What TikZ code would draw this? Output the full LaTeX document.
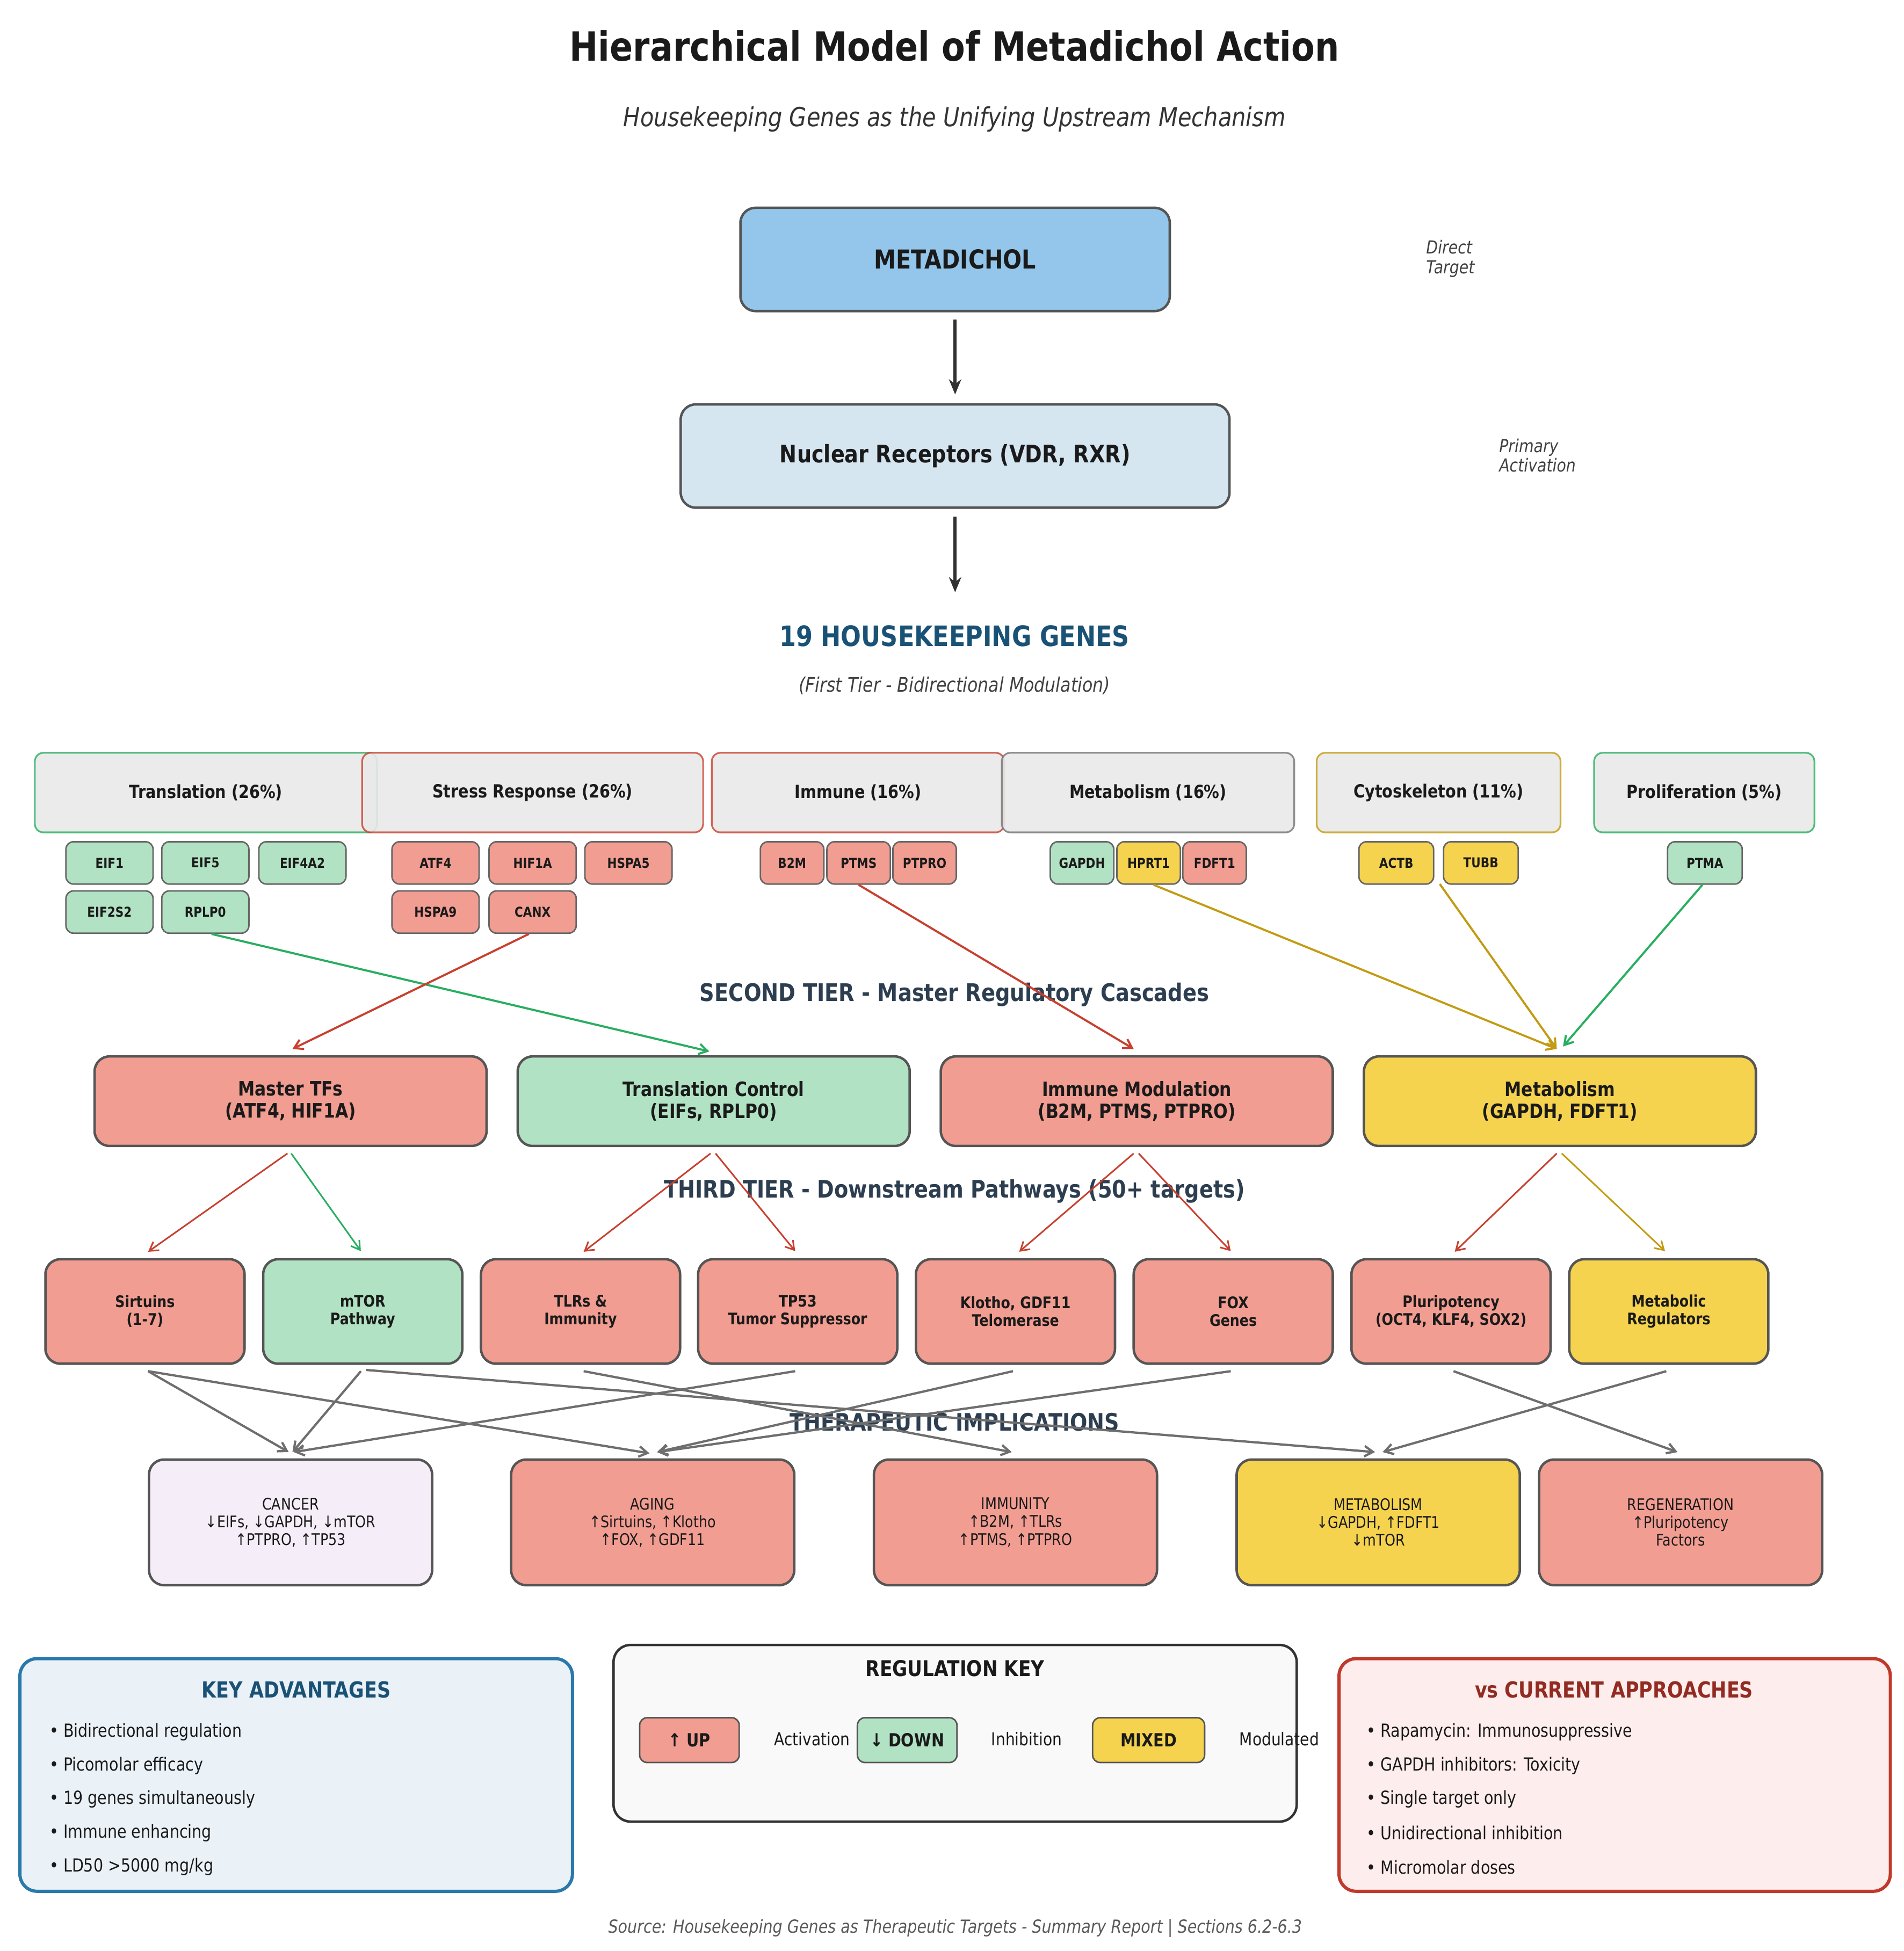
\documentclass[tikz,border=0pt]{standalone}
\usepackage{fontspec}
\setmainfont{DejaVu Sans}[FakeStretch=0.85]
\usetikzlibrary{arrows.meta}
\definecolor{inkc}{HTML}{1A1A1A}
\definecolor{edgec}{HTML}{555555}
\definecolor{upc}{HTML}{F29D92}
\definecolor{downc}{HTML}{B1E2C3}
\definecolor{mixc}{HTML}{F5D34F}
\definecolor{redl}{HTML}{C8402F}
\definecolor{greenl}{HTML}{27AE60}
\definecolor{goldl}{HTML}{C39B12}
\definecolor{grayl}{HTML}{6E6E6E}
\definecolor{navyc}{HTML}{1A5276}
\definecolor{slatec}{HTML}{2C3E50}
\definecolor{metac}{HTML}{93C6EA}
\definecolor{nuclc}{HTML}{D6E6F1}
\definecolor{cancc}{HTML}{F5EEF8}
\definecolor{advl}{HTML}{2979AB}
\definecolor{advc}{HTML}{EAF1F7}
\definecolor{curl}{HTML}{C0392B}
\definecolor{curc}{HTML}{FDEDEC}
\definecolor{curt}{HTML}{922B21}
\newcommand{\pxu}{0.02317cm}
\newcommand{\fsz}[2]{\fontsize{#1}{#2}\selectfont}
\tikzset{
    box/.style n args={3}{draw=edgec,line width=1.3pt,rounded corners=0.28cm,fill=#1,
        minimum width=#2*\pxu,minimum height=#3*\pxu,inner sep=0pt,align=center,text=inkc},
    tiertwo/.style={box={#1}{315}{72},font=\bfseries\fsz{10.5}{11.6}},
    tierthree/.style={box={#1}{160}{84},font=\bfseries\fsz{8.45}{9.4}},
    outcome/.style={box={#1}{227.5}{101},font=\fsz{8.5}{9.4}},
    cat/.style n args={2}{draw=#1,draw opacity=.8,line width=.9pt,rounded corners=0.16cm,
        fill=black!8.5,fill opacity=.9,text opacity=1,minimum width=#2*\pxu,minimum height=64*\pxu,
        inner sep=0pt,font=\bfseries\fsz{9.6}{12},text=inkc},
    gene/.style n args={2}{draw=edgec!90,line width=.8pt,rounded corners=0.14cm,fill=#1,
        minimum width=#2*\pxu,minimum height=34*\pxu,inner sep=0pt,font=\bfseries\fsz{7.2}{9},text=inkc},
    keybtn/.style n args={2}{draw=edgec,line width=.8pt,rounded corners=0.14cm,fill=#1,
        minimum width=#2*\pxu,minimum height=36*\pxu,inner sep=0pt,font=\bfseries\fsz{9.6}{12},text=inkc},
    panel/.style n args={4}{draw=#1,line width=1.7pt,rounded corners=0.32cm,fill=#2,
        minimum width=#3*\pxu,minimum height=#4*\pxu,inner sep=0pt},
    lbl/.style={inner sep=0pt,text=inkc},
    item/.style={lbl,anchor=west,font=\fsz{9.55}{12}},
    flow/.style={-{Stealth[length=8pt,width=6.5pt]},draw=inkc!90,line width=1.6pt},
    link/.style={-{Straight Barb[length=4.5pt,width=5.5pt]},draw=#1,line width=1.1pt},
    down/.style={link=#1,line width=.85pt},
    cross/.style={link=grayl,line width=1.2pt}
}

\begin{document}
\begin{tikzpicture}[x=\pxu,y=-\pxu]
    \useasboundingbox (0,0) rectangle (1530,1568);

    \node[lbl,font=\bfseries\fsz{21.3}{25}] (title) at (767,37) {Hierarchical Model of Metadichol Action};
    \node[lbl,font=\itshape\fsz{13.9}{17},text=black!80] (subtitle) at (767,96) {Housekeeping Genes as the Unifying Upstream Mechanism};

    \node[box={metac}{345}{83},font=\bfseries\fsz{13.8}{17}] (meta) at (767.5,208.5) {METADICHOL};
    \node[box={nuclc}{441}{83},font=\bfseries\fsz{12.8}{16}] (nuclear) at (767.5,366.5) {Nuclear Receptors (VDR, RXR)};
    \node[lbl,align=left,font=\itshape\fsz{9.5}{10.5},text=black!75] (direct) at (1165.5,208) {Direct\\Target};
    \node[lbl,align=left,font=\itshape\fsz{9.5}{10.5},text=black!75] (primary) at (1235.5,366) {Primary\\Activation};

    \node[lbl,font=\bfseries\fsz{14.9}{18},text=navyc] (hk) at (767,511) {19 HOUSEKEEPING GENES};
    \node[lbl,font=\itshape\fsz{10.6}{13},text=black!75] (first) at (767,551) {(First Tier - Bidirectional Modulation)};
    \coordinate (hktop) at (767.5,476);

    \node[cat={greenl}{275}] (ctrans) at (165.5,637) {Translation (26\%)};
    \node[cat={redl}{274}] (cstress) at (428,637) {Stress Response (26\%)};
    \node[cat={redl}{235}] (cimm) at (689.5,637) {Immune (16\%)};
    \node[cat={black!55}{235}] (cmet) at (922.5,637) {Metabolism (16\%)};
    \node[cat={goldl}{196}] (ccyto) at (1156,637) {Cytoskeleton (11\%)};
    \node[cat={greenl}{177}] (cprol) at (1369.5,637) {Proliferation (5\%)};

    \node[gene={downc}{70}] (eif1) at (88,693.5) {EIF1};
    \node[gene={downc}{70}] (eif5) at (165,693.5) {EIF5};
    \node[gene={downc}{70}] (eif4a2) at (243,693.5) {EIF4A2};
    \node[gene={downc}{70}] (eif2s2) at (88,733) {EIF2S2};
    \node[gene={downc}{70}] (rplp0) at (165,733) {RPLP0};

    \node[gene={upc}{70}] (atf4) at (350,693.5) {ATF4};
    \node[gene={upc}{70}] (hif1a) at (428,693.5) {HIF1A};
    \node[gene={upc}{70}] (hspa5) at (505,693.5) {HSPA5};
    \node[gene={upc}{70}] (hspa9) at (350,733) {HSPA9};
    \node[gene={upc}{70}] (canx) at (428,733) {CANX};

    \node[gene={upc}{51}] (b2m) at (636.5,693.5) {B2M};
    \node[gene={upc}{51}] (ptms) at (690,693.5) {PTMS};
    \node[gene={upc}{51}] (ptpro) at (743,693.5) {PTPRO};

    \node[gene={downc}{51}] (gapdh) at (869.5,693.5) {GAPDH};
    \node[gene={mixc}{51}] (hprt1) at (923,693.5) {HPRT1};
    \node[gene={upc}{51}] (fdft1) at (976,693.5) {FDFT1};

    \node[gene={mixc}{60}] (actb) at (1122,693.5) {ACTB};
    \node[gene={mixc}{60}] (tubb) at (1190,693.5) {TUBB};
    \node[gene={downc}{60}] (ptma) at (1370,693.5) {PTMA};
    \coordinate (cytofoot) at (1157,710.5);

    \node[lbl,font=\bfseries\fsz{12.85}{16},text=slatec] (second) at (767,799.5) {SECOND TIER - Master Regulatory Cascades};
    \node[tiertwo=upc] (master) at (233.5,885) {Master TFs\\(ATF4, HIF1A)};
    \node[tiertwo=downc] (control) at (573.5,885) {Translation Control\\(EIFs, RPLP0)};
    \node[tiertwo=upc] (modul) at (913.5,885) {Immune Modulation\\(B2M, PTMS, PTPRO)};
    \node[tiertwo=mixc] (metab) at (1253.5,885) {Metabolism\\(GAPDH, FDFT1)};

    \node[lbl,font=\bfseries\fsz{12.8}{16},text=slatec] (third) at (767,957.5) {THIRD TIER - Downstream Pathways (50+ targets)};
    \node[tierthree=upc] (sirt) at (116.5,1054) {Sirtuins\\(1-7)};
    \node[tierthree=downc] (mtor) at (291.5,1054) {mTOR\\Pathway};
    \node[tierthree=upc] (tlrs) at (466.5,1054) {TLRs \&\\Immunity};
    \node[tierthree=upc] (tp53) at (641,1054) {TP53\\Tumor Suppressor};
    \node[tierthree=upc] (klotho) at (816,1054) {Klotho, GDF11\\Telomerase};
    \node[tierthree=upc] (fox) at (991,1054) {FOX\\Genes};
    \node[tierthree=upc] (pluri) at (1166,1054) {Pluripotency\\(OCT4, KLF4, SOX2)};
    \node[tierthree=mixc] (regul) at (1341,1054) {Metabolic\\Regulators};

    \node[lbl,font=\bfseries\fsz{12.75}{16},text=slatec] (impl) at (767,1143) {THERAPEUTIC IMPLICATIONS};
    \node[outcome=cancc] (cancer) at (233.5,1223.5) {CANCER\\↓EIFs, ↓GAPDH, ↓mTOR\\↑PTPRO, ↑TP53};
    \node[outcome=upc] (aging) at (524.5,1223.5) {AGING\\↑Sirtuins, ↑Klotho\\↑FOX, ↑GDF11};
    \node[outcome=upc] (immun) at (816,1223.5) {IMMUNITY\\↑B2M, ↑TLRs\\↑PTMS, ↑PTPRO};
    \node[outcome=mixc] (metout) at (1107.5,1223.5) {METABOLISM\\↓GAPDH, ↑FDFT1\\↓mTOR};
    \node[outcome=upc] (regen) at (1350.5,1223.5) {REGENERATION\\↑Pluripotency\\Factors};

    \node[panel={advl}{advc}{444}{187}] (adv) at (238,1426.5) {};
    \node[lbl,font=\bfseries\fsz{11.7}{14},text=navyc] (advt) at (238,1358) {KEY ADVANTAGES};
    \node[item] (adv1) at (39.5,1392) {• Bidirectional regulation};
    \node[item] (adv2) at (39.5,1419) {• Picomolar efficacy};
    \node[item] (adv3) at (39.5,1446) {• 19 genes simultaneously};
    \node[item] (adv4) at (39.5,1473) {• Immune enhancing};
    \node[item] (adv5) at (39.5,1500.5) {• LD50 >5000 mg/kg};

    \node[panel={black!80}{black!2.5}{549}{142},line width=1.3pt] (key) at (767.5,1393) {};
    \node[lbl,font=\bfseries\fsz{11.5}{14}] (keyt) at (767.5,1341) {REGULATION KEY};
    \node[keybtn={upc}{80}] (kup) at (554,1398.5) {↑ UP};
    \node[lbl,font=\fsz{9.4}{12}] (kupt) at (652.5,1397.5) {Activation};
    \node[keybtn={downc}{80}] (kdown) at (729,1398.5) {↓ DOWN};
    \node[lbl,font=\fsz{9.4}{12}] (kdownt) at (825,1397.5) {Inhibition};
    \node[keybtn={mixc}{90}] (kmix) at (923,1398.5) {MIXED};
    \node[lbl,font=\fsz{9.4}{12}] (kmixt) at (1028,1397.5) {Modulated};

    \node[panel={curl}{curc}{443}{187}] (curr) at (1297.5,1426.5) {};
    \node[lbl,font=\bfseries\fsz{11.7}{14},text=curt] (currt) at (1297,1358) {vs CURRENT APPROACHES};
    \node[item] (cur1) at (1098,1392) {• Rapamycin: Immunosuppressive};
    \node[item] (cur2) at (1098,1419) {• GAPDH inhibitors: Toxicity};
    \node[item] (cur3) at (1098,1446) {• Single target only};
    \node[item] (cur4) at (1098,1473) {• Unidirectional inhibition};
    \node[item] (cur5) at (1098,1500.5) {• Micromolar doses};

    \node[lbl,font=\itshape\fsz{9.57}{12},text=black!65] (source) at (767.5,1549.5) {Source: Housekeeping Genes as Therapeutic Targets - Summary Report | Sections 6.2-6.3};

    \draw[flow,shorten <=6*\pxu,shorten >=7*\pxu] (meta) -- (nuclear);
    \draw[flow,shorten <=6*\pxu] (nuclear) -- (hktop);

    \draw[link=greenl] ([xshift=5*\pxu]rplp0.south) -- ([xshift=-3.5*\pxu,yshift=3*\pxu]control.north);
    \draw[link=redl] ([xshift=-3*\pxu]canx.south) -- ([xshift=1.5*\pxu,yshift=5*\pxu]master.north);
    \draw[link=redl] (ptms.south) -- ([xshift=-2.5*\pxu,yshift=5*\pxu]modul.north);
    \draw[link=goldl] ([xshift=4*\pxu]hprt1.south) -- ([xshift=-2.5*\pxu,yshift=5*\pxu]metab.north);
    \draw[link=goldl] (cytofoot) -- ([xshift=-2.5*\pxu,yshift=5*\pxu]metab.north);
    \draw[link=greenl] ([xshift=-2*\pxu]ptma.south) -- ([xshift=2.5*\pxu,yshift=7*\pxu]metab.north);

    \draw[down=redl] ([xshift=-2.5*\pxu,yshift=-5*\pxu]master.south) -- ([xshift=2.5*\pxu,yshift=5*\pxu]sirt.north);
    \draw[down=greenl] ([xshift=.5*\pxu,yshift=-5*\pxu]master.south) -- ([xshift=-1.5*\pxu,yshift=5.5*\pxu]mtor.north);
    \draw[down=redl] ([xshift=-2.5*\pxu,yshift=-5*\pxu]control.south) -- ([xshift=2.5*\pxu,yshift=5*\pxu]tlrs.north);
    \draw[down=redl] ([xshift=1.5*\pxu,yshift=-5*\pxu]control.south) -- ([xshift=-2*\pxu,yshift=5.5*\pxu]tp53.north);
    \draw[down=redl] ([xshift=-2.5*\pxu,yshift=-5*\pxu]modul.south) -- ([xshift=3*\pxu,yshift=5*\pxu]klotho.north);
    \draw[down=redl] ([xshift=1.5*\pxu,yshift=-5*\pxu]modul.south) -- ([xshift=-2*\pxu,yshift=5.5*\pxu]fox.north);
    \draw[down=redl] ([xshift=-2.5*\pxu,yshift=-5*\pxu]metab.south) -- ([xshift=3*\pxu,yshift=5*\pxu]pluri.north);
    \draw[down=goldl] ([xshift=1.5*\pxu,yshift=-5*\pxu]metab.south) -- ([xshift=-3*\pxu,yshift=5.5*\pxu]regul.north);

    \draw[cross] ([xshift=2.5*\pxu,yshift=-5*\pxu]sirt.south) -- ([xshift=-1.5*\pxu,yshift=5*\pxu]cancer.north);
    \draw[cross] ([xshift=2.5*\pxu,yshift=-5*\pxu]sirt.south) -- ([xshift=-2.5*\pxu,yshift=4*\pxu]aging.north);
    \draw[cross] ([xshift=-1.5*\pxu,yshift=-5*\pxu]mtor.south) -- ([xshift=1.5*\pxu,yshift=5*\pxu]cancer.north);
    \draw[cross] ([xshift=2.5*\pxu,yshift=-4*\pxu]mtor.south) -- ([xshift=-2.5*\pxu,yshift=5*\pxu]metout.north);
    \draw[cross] ([xshift=2.5*\pxu,yshift=-5*\pxu]tlrs.south) -- ([xshift=-3*\pxu,yshift=5*\pxu]immun.north);
    \draw[cross] ([xshift=-2*\pxu,yshift=-5*\pxu]tp53.south) -- ([xshift=2.5*\pxu,yshift=5*\pxu]cancer.north);
    \draw[cross] ([xshift=-2*\pxu,yshift=-5*\pxu]klotho.south) -- ([xshift=3.5*\pxu,yshift=5*\pxu]aging.north);
    \draw[cross] ([xshift=-2*\pxu,yshift=-5*\pxu]fox.south) -- ([xshift=3.5*\pxu,yshift=5*\pxu]aging.north);
    \draw[cross] ([xshift=2*\pxu,yshift=-5*\pxu]pluri.south) -- ([xshift=-2.5*\pxu,yshift=5*\pxu]regen.north);
    \draw[cross] ([xshift=-2*\pxu,yshift=-5*\pxu]regul.south) -- ([xshift=3.5*\pxu,yshift=5*\pxu]metout.north);
\end{tikzpicture}
\end{document}
